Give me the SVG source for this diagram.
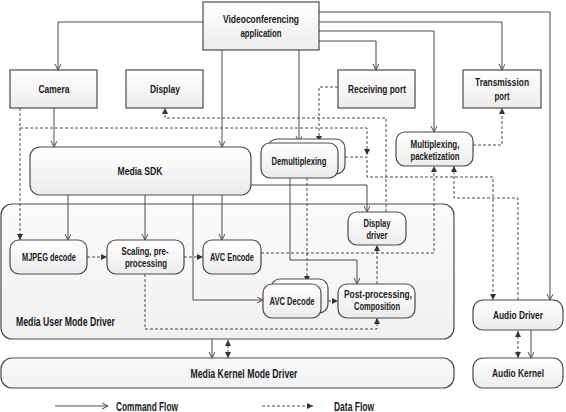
<svg xmlns="http://www.w3.org/2000/svg" width="566" height="412" viewBox="0 0 566 412">
<defs>
<linearGradient id="g" x1="0" y1="0" x2="0" y2="1"><stop offset="0" stop-color="#ffffff"/><stop offset="1" stop-color="#ececec"/></linearGradient>
<linearGradient id="gc" x1="0" y1="0" x2="0" y2="1"><stop offset="0" stop-color="#fbfbfb"/><stop offset="1" stop-color="#f1f1f1"/></linearGradient>
<marker id="open" markerUnits="userSpaceOnUse" markerWidth="8" markerHeight="8" refX="6" refY="3" orient="auto"><path d="M0,0 L6,3 L0,6" fill="none" stroke="#4a4a4a" stroke-width="1"/></marker>
<marker id="fill" markerUnits="userSpaceOnUse" markerWidth="8" markerHeight="8" refX="6" refY="3" orient="auto"><path d="M0,0 L6,3 L0,6 z" fill="#333"/></marker>
<marker id="fillS" markerUnits="userSpaceOnUse" markerWidth="8" markerHeight="8" refX="0" refY="3" orient="auto"><path d="M6,0 L0,3 L6,6 z" fill="#333"/></marker>
<style>
.box{fill:url(#g);stroke:#4a4a4a;stroke-width:1.2}
.cont{fill:url(#gc);stroke:#4a4a4a;stroke-width:1.2}
.t{font-family:"Liberation Sans",Arial,sans-serif;font-weight:bold;font-size:11.5px;fill:#1a1a1a;text-anchor:middle}
.tl{text-anchor:start}
.big{font-size:12px}
.cmd{fill:none;stroke:#4a4a4a;stroke-width:1;marker-end:url(#open)}
.data{fill:none;stroke:#4a4a4a;stroke-width:1;stroke-dasharray:3 2;marker-end:url(#fill)}
</style>
</defs>
<rect width="566" height="412" fill="#fff"/>

<g id="user-mode-driver">
<rect class="cont" x="1" y="204" width="453" height="135" rx="11"/>
<text class="t tl big" x="16" y="325.5" textLength="99" lengthAdjust="spacingAndGlyphs">Media User Mode Driver</text>
</g>
<g id="kernel-mode-driver">
<rect class="cont" x="1" y="358" width="453" height="30" rx="11"/>
<text class="t big" x="244" y="377.5" textLength="107" lengthAdjust="spacingAndGlyphs">Media Kernel Mode Driver</text>
</g>

<g id="connectors">
<path class="cmd" d="M203,22 H58 V70"/>
<path class="cmd" d="M222,50 V147"/>
<path class="cmd" d="M299,50 V142"/>
<path class="cmd" d="M319,41 H376 V70"/>
<path class="cmd" d="M319,31 H434 V132"/>
<path class="cmd" d="M319,22 H502 V70"/>
<path class="cmd" d="M319,12 H550 V300"/>
<path class="cmd" d="M54,108 V147"/>
<path class="cmd" d="M68,195 V240"/>
<path class="cmd" d="M145,195 V240"/>
<path class="cmd" d="M222,195 V240"/>
<path class="cmd" d="M193,195 V300 H263"/>
<path class="cmd" d="M251,185 H367 V212"/>
<path class="cmd" d="M290,178 V260 H357 V284"/>
<path class="cmd" d="M212,339 V358"/>
<path class="cmd" d="M531,330 V358"/>
<path class="data" d="M20,108 V240"/>
<path class="data" d="M20,128 H367 V155"/>
<path class="data" d="M345,157 H367 V177 H493 V300"/>
<path class="data" d="M338,87 H319 V142"/>
<path class="data" d="M473,145 H502 V108"/>
<path class="data" d="M386,212 V118 H165 V108"/>
<path class="data" d="M307,178 V282"/>
<path class="data" d="M87,257 H107"/>
<path class="data" d="M184,257 H203"/>
<path class="data" d="M328,301 H338"/>
<path class="data" d="M261,253 H434 V166"/>
<path class="data" d="M377,284 V245"/>
<path class="data" d="M145,274 V329 H377 V318"/>
<path class="data" d="M518,300 V198 H454 V166"/>
<path class="data" d="M228,340 V358" marker-start="url(#fillS)"/>
<path class="data" d="M518,331 V358" marker-start="url(#fillS)"/>
</g>

<g id="videoconferencing-application">
<rect class="box" x="203" y="2" width="116" height="48"/>
<text class="t" x="261" y="23" textLength="76" lengthAdjust="spacingAndGlyphs">Videoconferencing</text>
<text class="t" x="261" y="37" textLength="41" lengthAdjust="spacingAndGlyphs">application</text>
</g>
<g id="camera">
<rect class="box" x="10" y="70" width="87" height="38"/>
<text class="t" x="54" y="93" textLength="31" lengthAdjust="spacingAndGlyphs">Camera</text>
</g>
<g id="display">
<rect class="box" x="126" y="70" width="77" height="38"/>
<text class="t" x="165" y="93" textLength="30" lengthAdjust="spacingAndGlyphs">Display</text>
</g>
<g id="receiving-port">
<rect class="box" x="338" y="70" width="77" height="38"/>
<text class="t" x="377" y="93" textLength="58" lengthAdjust="spacingAndGlyphs">Receiving port</text>
</g>
<g id="transmission-port">
<rect class="box" x="463" y="70" width="78" height="38"/>
<text class="t" x="502" y="86" textLength="54" lengthAdjust="spacingAndGlyphs">Transmission</text>
<text class="t" x="502" y="100" textLength="15" lengthAdjust="spacingAndGlyphs">port</text>
</g>
<g id="media-sdk">
<rect class="box" x="30" y="147" width="221" height="48" rx="10"/>
<text class="t" x="140" y="175" textLength="45" lengthAdjust="spacingAndGlyphs">Media SDK</text>
</g>
<g id="demultiplexing">
<rect class="box" x="268" y="139" width="77" height="35" rx="9"/>
<rect class="box" x="261" y="143" width="77" height="35" rx="9"/>
<text class="t" x="299" y="165" textLength="55" lengthAdjust="spacingAndGlyphs">Demultiplexing</text>
</g>
<g id="multiplexing">
<rect class="box" x="396" y="132" width="77" height="34" rx="9"/>
<text class="t" x="435" y="148" textLength="49" lengthAdjust="spacingAndGlyphs">Multiplexing,</text>
<text class="t" x="435" y="160" textLength="49" lengthAdjust="spacingAndGlyphs">packetization</text>
</g>
<g id="mjpeg-decode">
<rect class="box" x="10" y="240" width="77" height="34" rx="9"/>
<text class="t" x="49" y="261" textLength="54" lengthAdjust="spacingAndGlyphs">MJPEG decode</text>
</g>
<g id="scaling">
<rect class="box" x="107" y="240" width="77" height="34" rx="9"/>
<text class="t" x="145" y="255" textLength="47" lengthAdjust="spacingAndGlyphs">Scaling, pre-</text>
<text class="t" x="146" y="267" textLength="42" lengthAdjust="spacingAndGlyphs">processing</text>
</g>
<g id="avc-encode">
<rect class="box" x="203" y="240" width="58" height="34" rx="9"/>
<text class="t" x="232" y="261" textLength="44" lengthAdjust="spacingAndGlyphs">AVC Encode</text>
</g>
<g id="display-driver">
<rect class="box" x="348" y="212" width="58" height="33" rx="9"/>
<text class="t" x="377" y="227" textLength="27" lengthAdjust="spacingAndGlyphs">Display</text>
<text class="t" x="377" y="239" textLength="21" lengthAdjust="spacingAndGlyphs">driver</text>
</g>
<g id="avc-decode">
<rect class="box" x="271" y="279" width="57" height="34" rx="9"/>
<rect class="box" x="263" y="284" width="58" height="34" rx="9"/>
<text class="t" x="292" y="305" textLength="45" lengthAdjust="spacingAndGlyphs">AVC Decode</text>
</g>
<g id="post-processing">
<rect class="box" x="338" y="284" width="77" height="34" rx="9"/>
<text class="t" x="378" y="298" textLength="68" lengthAdjust="spacingAndGlyphs">Post-processing,</text>
<text class="t" x="377" y="310" textLength="46" lengthAdjust="spacingAndGlyphs">Composition</text>
</g>
<g id="audio-driver">
<rect class="box" x="473" y="300" width="90" height="30" rx="10"/>
<text class="t" x="518" y="319" textLength="50" lengthAdjust="spacingAndGlyphs">Audio Driver</text>
</g>
<g id="audio-kernel">
<rect class="box" x="473" y="358" width="90" height="30" rx="10"/>
<text class="t" x="518" y="377" textLength="52" lengthAdjust="spacingAndGlyphs">Audio Kernel</text>
</g>

<g id="legend">
<path class="cmd" d="M55,406 H108"/>
<text class="t tl big" x="116" y="410.5" textLength="62" lengthAdjust="spacingAndGlyphs">Command Flow</text>
<path class="data" d="M262,406 H313"/>
<text class="t tl big" x="334" y="410.5" textLength="40" lengthAdjust="spacingAndGlyphs">Data Flow</text>
</g>
</svg>
